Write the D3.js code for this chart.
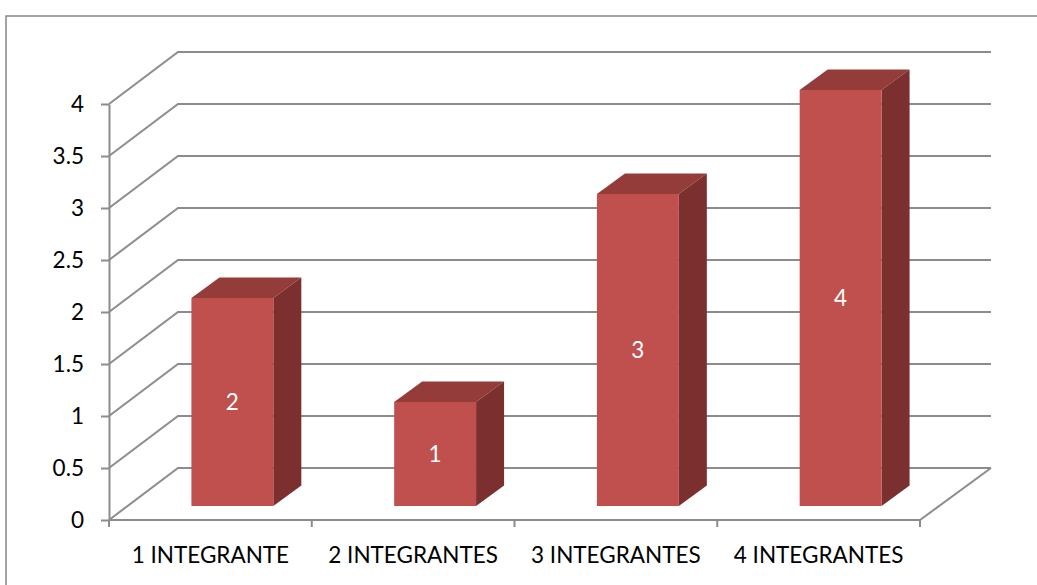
<!DOCTYPE html>
<html>
<head>
<meta charset="utf-8">
<script src="https://cdn.jsdelivr.net/npm/d3@7"></script>
<style>
  html, body { margin: 0; padding: 0; background: #fff; }
  svg text { font-family: Lato, "Open Sans", sans-serif; }
</style>
</head>
<body>
<div id="chart"></div>
<script>
// data
var categories = ['1 INTEGRANTE', '2 INTEGRANTES', '3 INTEGRANTES', '4 INTEGRANTES'];
var values = [2, 1, 3, 4];
var yTicks = [0, 0.5, 1, 1.5, 2, 2.5, 3, 3.5, 4];
var yTickLabels = ['0', '0.5', '1', '1.5', '2', '2.5', '3', '3.5', '4'];

var width = 1037, height = 585;
var gridColor = '#8c8c8c';
var fontSize = '22.5px';

// 3d offsets
var wallDx = 69, wallDy = -52;     // full depth of floor / wall
var barDx = 22, barDy = -14;       // where the bar front face sits
var barDepthX = 28, barDepthY = -20.5;

var svg = d3.select('#chart').append('svg')
  .attr('width', width)
  .attr('height', height);

// chart border
svg.append('rect')
  .attr('x', 6).attr('y', 16)
  .attr('width', 1100).attr('height', 700)
  .attr('fill', 'none')
  .attr('stroke', '#868686')
  .attr('stroke-width', 1.5);

var x = d3.scaleBand().domain(categories).range([109, 920]);
var y = d3.scaleLinear().domain([0, 4]).range([520, 104]);

var x0 = x.range()[0], x1 = x.range()[1];

// back wall gridlines + left wall diagonals
var grid = svg.append('g');
yTicks.forEach(function(v) {
  grid.append('path')
    .attr('d', 'M' + x0 + ',' + y(v) +
               'L' + (x0 + wallDx) + ',' + (y(v) + wallDy) +
               'L' + (x1 + wallDx + 2) + ',' + (y(v) + wallDy))
    .attr('fill', 'none')
    .attr('stroke', gridColor)
    .attr('stroke-width', 2);
});

// floor right edge
grid.append('line')
  .attr('x1', x1).attr('y1', y(0))
  .attr('x2', x1 + wallDx + 2).attr('y2', y(0) + wallDy)
  .attr('stroke', gridColor).attr('stroke-width', 2);

// bars
var barW = x.bandwidth() * 0.404;
var bars = svg.selectAll('.bar')
  .data(values)
  .enter()
  .append('g')
  .attr('class', 'bar');

bars.each(function(d, i) {
  var g = d3.select(this);
  var bx = x(categories[i]) + x.bandwidth() / 2 - barW / 2 + barDx;
  var by0 = y(0) + barDy;
  var by1 = y(d) + barDy;

  // top face
  g.append('path')
    .attr('d', 'M' + bx + ',' + by1 +
               'L' + (bx + barDepthX) + ',' + (by1 + barDepthY) +
               'L' + (bx + barW + barDepthX) + ',' + (by1 + barDepthY) +
               'L' + (bx + barW) + ',' + by1 + 'Z')
    .attr('fill', '#933c3a');

  // side face
  g.append('path')
    .attr('d', 'M' + (bx + barW) + ',' + by1 +
               'L' + (bx + barW + barDepthX) + ',' + (by1 + barDepthY) +
               'L' + (bx + barW + barDepthX) + ',' + (by0 + barDepthY) +
               'L' + (bx + barW) + ',' + by0 + 'Z')
    .attr('fill', '#7b2f2e');

  // front face
  g.append('rect')
    .attr('x', bx).attr('y', by1)
    .attr('width', barW).attr('height', by0 - by1)
    .attr('fill', '#c0504d');

  g.append('text')
    .attr('x', bx + barW / 2)
    .attr('y', (by0 + by1) / 2)
    .attr('dy', '0.36em')
    .attr('text-anchor', 'middle')
    .attr('fill', '#fff')
    .style('font-size', fontSize)
    .text(d);
});

// y axis
var yAxis = svg.append('g')
  .attr('transform', 'translate(' + x0 + ',0)')
  .call(d3.axisLeft(y).tickValues(yTicks).tickSize(8).tickSizeOuter(0)
    .tickFormat(function(d, i) { return yTickLabels[i]; }));
yAxis.select('.domain').attr('stroke', gridColor).attr('stroke-width', 2);
yAxis.selectAll('.tick line').attr('stroke', gridColor).attr('stroke-width', 2);
yAxis.selectAll('.tick text')
  .attr('x', -25)
  .attr('fill', '#000')
  .style('font-size', fontSize)
  .style('font-family', 'Lato, sans-serif');

// x axis (labels at centres, ticks at band edges)
var xAxis = svg.append('g')
  .attr('transform', 'translate(0,' + y(0) + ')')
  .call(d3.axisBottom(x).tickSize(0).tickSizeOuter(0));
xAxis.select('.domain').remove();
xAxis.selectAll('.tick text')
  .attr('y', 35)
  .attr('dy', '0.36em')
  .attr('fill', '#000')
  .style('font-size', fontSize)
  .style('font-family', 'Lato, sans-serif');

svg.append('line')
  .attr('x1', x0).attr('y1', y(0))
  .attr('x2', x1).attr('y2', y(0))
  .attr('stroke', gridColor).attr('stroke-width', 2);

var edges = categories.map(function(c) { return x(c); }).concat([x1]);
svg.selectAll('.xtick')
  .data(edges)
  .enter()
  .append('line')
  .attr('class', 'xtick')
  .attr('x1', function(d) { return d; })
  .attr('x2', function(d) { return d; })
  .attr('y1', y(0))
  .attr('y2', y(0) + 7)
  .attr('stroke', gridColor)
  .attr('stroke-width', 2);
</script>
</body>
</html>
